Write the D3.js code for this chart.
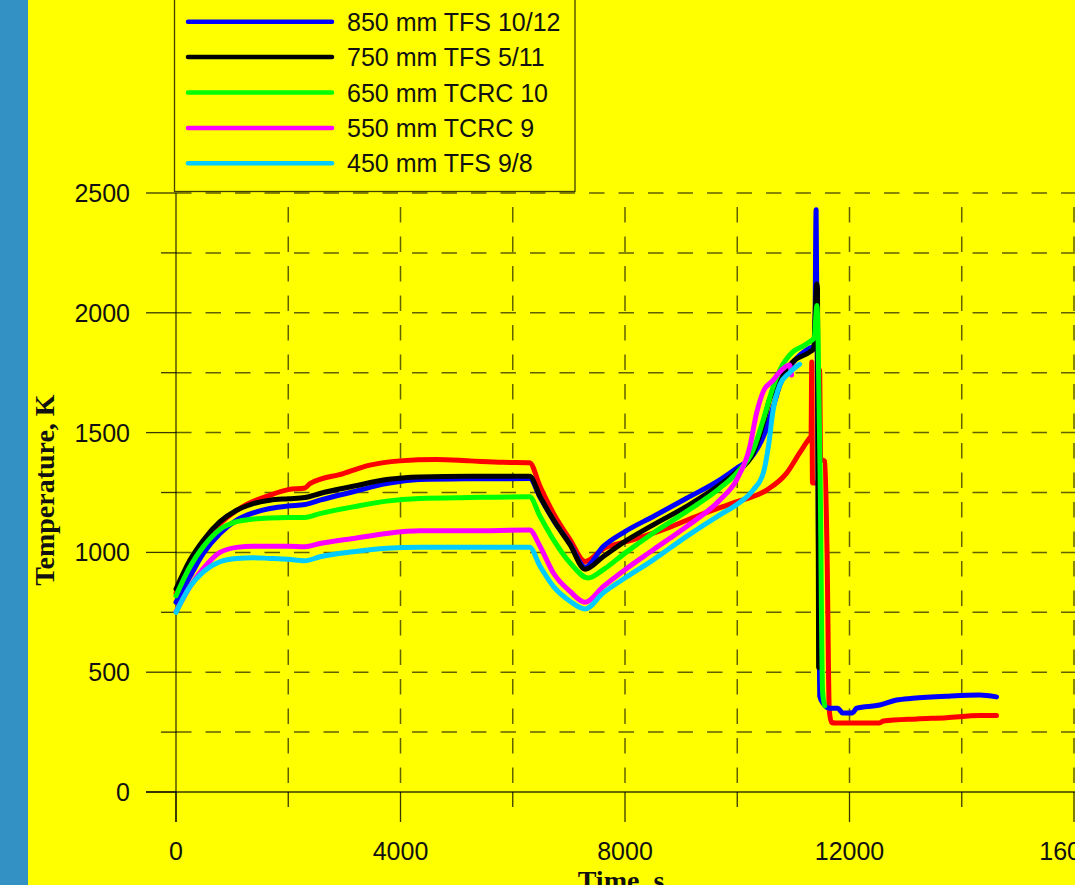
<!DOCTYPE html>
<html><head><meta charset="utf-8">
<script src="https://cdn.jsdelivr.net/npm/d3@7"></script>
<style>html,body{margin:0;padding:0;background:#ffff00;overflow:hidden}</style>
</head><body>
<svg id="c" width="1075" height="885"></svg>
<script>
// ---- data ----
const blueTime = [0,249,487,783,1080,1377,1674,2000,2297,2564,3157,3751,4344,5234,6300,6487,6724,7021,7288,7614,8000,8504,9098,9691,9988,10285,10463,10641,10760,10986,11289,11380,11405,11450,11470,11530,11645,11788,11877,12055,12126,12536,12838,13123,13729,14316,14619];
const blueTemp = [792,899,996,1079,1135,1165,1183,1194,1200,1218,1253,1287,1304,1307,1308,1230,1135,1035,938,1025,1087,1150,1226,1303,1351,1407,1483,1608,1700,1790,1852,1862,2430,900,400,370,350,350,330,330,350,363,384,391,400,405,397];

const blackTime = [0,249,487,783,1080,1377,1674,2000,2297,2564,3157,3751,4344,5234,6300,6487,6724,7021,7288,7614,8000,8504,9098,9691,9988,10285,10463,10577,10760,10986,11289,11360,11390,11415,11430,11450];
const blackTemp = [847,968,1051,1128,1176,1204,1218,1224,1229,1246,1276,1304,1315,1318,1318,1233,1136,1032,930,983,1046,1115,1192,1282,1337,1414,1539,1640,1720,1795,1836,1850,2000,2120,2100,520];

const greenTime = [0,249,487,783,1080,1377,1674,2000,2297,2564,3157,3751,4344,5234,6300,6487,6724,7021,7347,7614,8000,8504,9098,9691,9988,10285,10463,10641,10760,10986,11200,11289,11370,11420,11440,11480,11520,11560];
const greenTemp = [819,940,1024,1096,1128,1139,1144,1146,1146,1162,1190,1214,1225,1229,1232,1150,1053,956,893,928,997,1081,1171,1268,1331,1428,1553,1692,1761,1836,1865,1879,1895,2030,1900,1250,420,360];

const magentaTime = [0,249,487,783,1080,1377,1674,2000,2297,2564,3157,3751,4344,5234,6300,6487,6724,7021,7288,7614,8000,8504,9098,9691,9988,10225,10344,10463,10641,10760,10933,10969];
const magentaTemp = [753,857,933,1000,1021,1026,1026,1026,1024,1037,1058,1079,1090,1090,1093,1025,914,837,792,858,928,1011,1108,1219,1303,1442,1581,1671,1719,1754,1782,1740];

const cyanTime = [0,249,487,783,1080,1377,1674,2000,2297,2564,3157,3751,4344,5234,6300,6487,6724,7021,7288,7614,8000,8504,9098,9691,9988,10285,10463,10560,10636,10760,10933,11111];
const cyanTemp = [750,857,919,961,975,978,975,971,965,982,1003,1017,1021,1021,1021,942,858,796,764,831,893,969,1067,1157,1199,1261,1331,1450,1590,1700,1750,1785];

const redTime = [0,249,487,783,1080,1258,1674,2000,2297,2386,2980,3454,3988,4641,5234,5828,6300,6487,6724,7021,7288,7614,8138,8743,9330,9918,10524,10880,11111,11289,11315,11328,11340,11450,11467,11485,11560,11600,11640,11680,11750,12536,12600,13200,13729,14316,14619];
const redTemp = [830,955,1040,1120,1175,1200,1239,1262,1269,1287,1329,1364,1382,1388,1382,1376,1374,1275,1164,1053,962,1015,1052,1100,1156,1206,1260,1331,1415,1477,1485,1795,1290,1290,1760,1390,1380,1000,340,290,288,288,296,305,310,319,319];

const legendLabels = ["850 mm TFS 10/12","750 mm TFS 5/11","650 mm TCRC 10","550 mm TCRC 9","450 mm TFS 9/8"];
const legendColors = ["#0000ff","#000000","#00ff00","#ff00ff","#00ccff"];
const xTicks = [0,4000,8000,12000,16000];
const xMinor = [2000,6000,10000,14000];
const yTicks = [0,500,1000,1500,2000,2500];
const yMinor = [250,750,1250,1750,2250];

// ---- drawing ----
const svg = d3.select("#c");
svg.append("rect").attr("width",1075).attr("height",885).attr("fill","#ffff00");
svg.append("rect").attr("x",0).attr("y",0).attr("width",28).attr("height",885).attr("fill","#3391c4");

const x = d3.scaleLinear().domain([0,16000]).range([176,1074]);
const y = d3.scaleLinear().domain([0,2500]).range([792,193]);
const gridCol = "rgba(0,0,0,0.62)";

// horizontal dashed grid
svg.append("g").selectAll("line").data(yTicks.concat(yMinor).filter(v=>v>0)).join("line")
  .attr("x1",x(0)).attr("x2",1075).attr("y1",d=>y(d)).attr("y2",d=>y(d))
  .attr("stroke",gridCol).attr("stroke-width",1.5).attr("stroke-dasharray","15.5,14");
// vertical dashed grid
svg.append("g").selectAll("line").data(xTicks.concat(xMinor).filter(v=>v>0)).join("line")
  .attr("x1",d=>x(d)).attr("x2",d=>x(d)).attr("y1",y(2500)).attr("y2",y(0))
  .attr("stroke",gridCol).attr("stroke-width",1.5).attr("stroke-dasharray","15.5,14").attr("stroke-dashoffset",15.5);

// axes
const axCol = "rgba(0,0,0,0.78)";
svg.append("line").attr("x1",x(0)).attr("x2",x(0)).attr("y1",y(2500)).attr("y2",y(0)+30).attr("stroke",axCol).attr("stroke-width",1.3);
svg.append("line").attr("x1",x(0)-30).attr("x2",1075).attr("y1",y(0)).attr("y2",y(0)).attr("stroke",axCol).attr("stroke-width",1.3);
svg.append("g").selectAll("line").data(yTicks).join("line")
  .attr("x1",x(0)-30).attr("x2",x(0)).attr("y1",d=>y(d)).attr("y2",d=>y(d)).attr("stroke",axCol).attr("stroke-width",1.3);
svg.append("g").selectAll("line").data(yMinor).join("line")
  .attr("x1",x(0)-15).attr("x2",x(0)).attr("y1",d=>y(d)).attr("y2",d=>y(d)).attr("stroke",axCol).attr("stroke-width",1.3);
svg.append("g").selectAll("line").data(xTicks).join("line")
  .attr("x1",d=>x(d)).attr("x2",d=>x(d)).attr("y1",y(0)).attr("y2",y(0)+30).attr("stroke",axCol).attr("stroke-width",1.3);
svg.append("g").selectAll("line").data(xMinor).join("line")
  .attr("x1",d=>x(d)).attr("x2",d=>x(d)).attr("y1",y(0)).attr("y2",y(0)+15).attr("stroke",axCol).attr("stroke-width",1.3);

// tick labels
const sans = "'Liberation Sans', Arial, sans-serif";
svg.append("g").selectAll("text").data(yTicks).join("text")
  .attr("x",130).attr("y",d=>y(d)+9).attr("text-anchor","end")
  .attr("font-family",sans).attr("font-size","25px").attr("fill","#111")
  .text(d=>d);
svg.append("g").selectAll("text").data(xTicks).join("text")
  .attr("x",d=>x(d)).attr("y",860).attr("text-anchor","middle")
  .attr("font-family",sans).attr("font-size","25px").attr("fill","#111")
  .text(d=>d);

// axis titles
const serif = "'Liberation Serif', 'Times New Roman', serif";
svg.append("text").attr("transform","translate(54,490) rotate(-90)").attr("text-anchor","middle")
  .attr("font-family",serif).attr("font-weight","bold").attr("font-size","28px").attr("fill","#111")
  .text("Temperature, K");
svg.append("text").attr("x",621).attr("y",890).attr("text-anchor","middle")
  .attr("font-family",serif).attr("font-weight","bold").attr("font-size","28px").attr("fill","#111")
  .text("Time, s");

// series
const series = [
  {t:redTime, v:redTemp, c:"#ff0000"},
  {t:blueTime, v:blueTemp, c:legendColors[0]},
  {t:blackTime, v:blackTemp, c:legendColors[1]},
  {t:greenTime, v:greenTemp, c:legendColors[2]},
  {t:magentaTime, v:magentaTemp, c:legendColors[3]},
  {t:cyanTime, v:cyanTemp, c:legendColors[4]}
];
const line = d3.line().x(d=>x(d[0])).y(d=>y(d[1])).curve(d3.curveMonotoneX);
svg.append("g").selectAll("path").data(series).join("path")
  .attr("d",s=>line(s.t.map((t,i)=>[t,s.v[i]])))
  .attr("fill","none").attr("stroke",s=>s.c).attr("stroke-width",5)
  .attr("stroke-linejoin","round").attr("stroke-linecap","round");

// legend
const lg = svg.append("g");
lg.append("rect").attr("x",174.5).attr("y",-20).attr("width",400.5).attr("height",211.5)
  .attr("fill","#ffff00").attr("stroke","rgba(0,0,0,0.75)").attr("stroke-width",1.3);
const items = lg.selectAll("g").data(legendLabels).join("g")
  .attr("transform",(d,i)=>`translate(0,${21.7+i*35.4})`);
items.append("line").attr("x1",188).attr("x2",332).attr("y1",0).attr("y2",0)
  .attr("stroke",(d,i)=>legendColors[i]).attr("stroke-width",4.5).attr("stroke-linecap","round");
items.append("text").attr("x",347).attr("y",9)
  .attr("font-family",sans).attr("font-size","25px").attr("fill","#111").text(d=>d);
</script>
</body></html>
